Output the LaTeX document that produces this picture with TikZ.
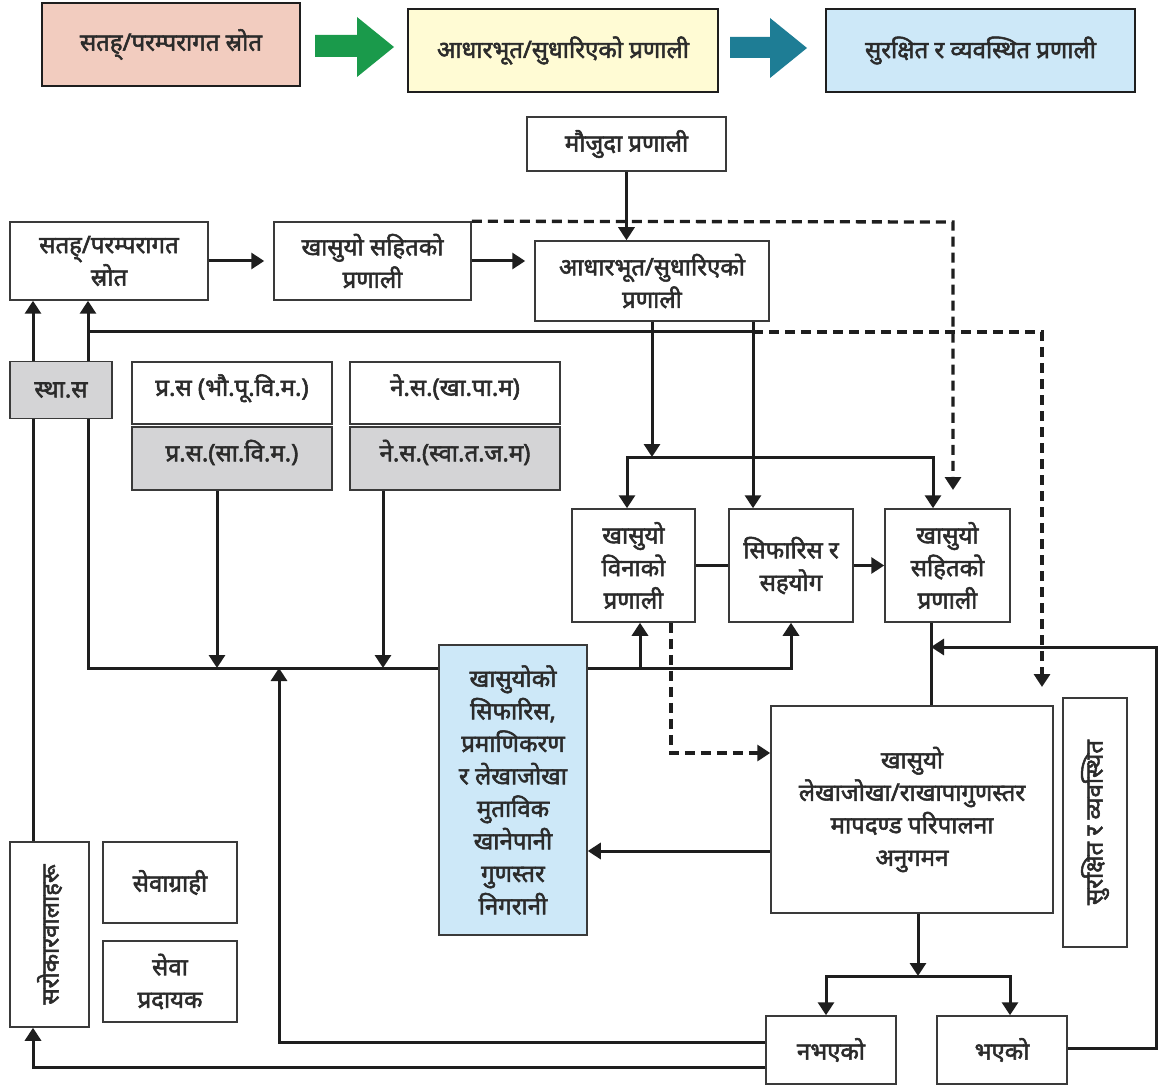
\documentclass[tikz,border=0pt]{standalone}
\usepackage{fontspec}
\newfontfamily\dev[Script=Devanagari, FakeBold=2.2]{Noto Sans}
\usetikzlibrary{arrows.meta,backgrounds}
\definecolor{pinkc}{HTML}{F2CCBF}
\definecolor{yellowc}{HTML}{FFFBD4}
\definecolor{bluec}{HTML}{CDE8F8}
\definecolor{grayc}{HTML}{D4D4D6}
\definecolor{greenc}{HTML}{1A9A4B}
\definecolor{tealc}{HTML}{1E7D95}
\definecolor{linec}{HTML}{1E1E1E}
\definecolor{boxc}{HTML}{3A3A3A}
\definecolor{txt}{HTML}{2B2B2B}
\tikzset{
  bx/.style={draw=boxc, line width=1.5pt, fill=white, align=center, inner sep=2pt,
    font=\dev\fontsize{24}{32.5}\selectfont, text=txt},
  sz/.style 2 args={minimum width=#1pt, minimum height=#2pt},
  topbx/.style={bx, line width=1.8pt, draw=linec},
  ln/.style={draw=linec, line width=3pt},
  ar/.style={ln, -{Triangle[width=16pt,length=13pt]}},
  arr2/.style={ln, {Triangle[width=16pt,length=13pt]}-{Triangle[width=16pt,length=13pt]}},
  dl/.style={draw=linec, line width=3.3pt, dash pattern=on 10pt off 6pt},
  dar/.style={dl, -{Triangle[width=16pt,length=13pt]}},
}
\begin{document}
\begin{tikzpicture}[x=1pt,y=-1pt]
\useasboundingbox (0,0) rectangle (1163,1086);

% top row
\node[topbx, fill=pinkc, sz={258}{83}] (top1) at (171,44.5) {सतह्/परम्परागत स्रोत};
\node[topbx, fill=yellowc, sz={310}{83}] (top2) at (563,50.5) {आधारभूत/सुधारिएको प्रणाली};
\node[topbx, fill=bluec, sz={309}{83}] (top3) at (980.5,50.5) {सुरक्षित र व्यवस्थित प्रणाली};
\fill[greenc] (315,35) -- (357,35) -- (357,17) -- (394,47) -- (357,77) -- (357,57) -- (315,57) -- cycle;
\fill[tealc] (730,37) -- (770,37) -- (770,18) -- (807,48) -- (770,78) -- (770,58) -- (730,58) -- cycle;

% main nodes
\node[bx, sz={199}{54}] (maujuda) at (626.5,144) {मौजुदा प्रणाली};
\node[bx, sz={198}{78}] (sataha) at (109,261) {सतह्/परम्परागत\\स्रोत};
\node[bx, sz={197}{78}] (khs1) at (372.5,261) {खासुयो सहितको\\प्रणाली};
\node[bx, sz={234}{80}] (adhar) at (652,281) {आधारभूत/सुधारिएको\\प्रणाली};
\node[bx, fill=grayc, sz={102}{57}] (stha) at (61,390) {स्था.स};
\node[bx, sz={200}{62}, text depth=16pt] (prasa1) at (232,393) {प्र.स (भौ.पू.वि.म.)};
\node[bx, fill=grayc, sz={200}{63}, text depth=16pt] (prasa2) at (232,458.5) {प्र.स.(सा.वि.म.)};
\node[bx, sz={210}{62}, text depth=16pt] (nesa1) at (455,393) {ने.स.(खा.पा.म)};
\node[bx, fill=grayc, sz={210}{63}, text depth=16pt] (nesa2) at (455,458.5) {ने.स.(स्वा.त.ज.म)};
\node[bx, sz={123}{113}] (vina) at (633.5,565.5) {खासुयो\\विनाको\\प्रणाली};
\node[bx, sz={124}{113}] (sifaris) at (791,565.5) {सिफारिस र\\सहयोग};
\node[bx, sz={125}{113}] (khs2) at (947.5,565.5) {खासुयो\\सहितको\\प्रणाली};
\node[bx, fill=bluec, sz={148}{290}] (blue) at (513,790) {खासुयोको\\सिफारिस,\\प्रमाणिकरण\\र लेखाजोखा\\मुताविक\\खानेपानी\\गुणस्तर\\निगरानी};
\node[bx, sz={282}{207}] (big) at (912,809.5) {खासुयो\\लेखाजोखा/राखापागुणस्तर\\मापदण्ड परिपालना\\अनुगमन};
\node[bx, sz={249}{64}, rotate=90] (surak) at (1095,822.5) {सुरक्षित र व्यवस्थित};
\node[bx, sz={185}{79}, rotate=90] (sarokar) at (49.5,934.5) {सरोकारवालाहरू};
\node[bx, sz={134}{81}] (sewag) at (170,882.5) {सेवाग्राही};
\node[bx, sz={134}{81}] (sewap) at (170,981.5) {सेवा\\प्रदायक};
\node[bx, sz={130}{68}] (nabh) at (831,1050) {नभएको};
\node[bx, sz={130}{68}] (bhae) at (1002,1050) {भएको};

% junction coordinates
\coordinate (jA) at (753,332);
\coordinate (jL) at (88,332);
\coordinate (jB) at (88,668);
\coordinate (jC) at (652,457);
\coordinate (hL) at (627,457);
\coordinate (hR) at (933,457);
\coordinate (d1) at (953,222);
\coordinate (d1e) at (953,490);
\coordinate (d2) at (1042,332);
\coordinate (d2e) at (1042,687);
\coordinate (jD) at (791,668);
\coordinate (jE) at (640,668);
\coordinate (jF) at (671,753);
\coordinate (jG) at (279,668);
\coordinate (jH) at (279,1042);
\coordinate (jI) at (1156,1048);
\coordinate (jJ) at (1156,647);
\coordinate (jK) at (931,647);
\coordinate (jM) at (918,976);
\coordinate (bL) at (826,976);
\coordinate (bR) at (1010,976);
\coordinate (jN) at (33,1067);
\coordinate (p1) at (217,668);
\coordinate (p2) at (383,668);

\begin{scope}[on background layer]
  \fill[white] (0,0) rectangle (1163,1086);
  \draw[ar] (maujuda.south) -- (maujuda.south |- adhar.north);
  \draw[ar, shorten >=9pt] (sataha.east) -- (khs1.west);
  \draw[ar, shorten >=9pt] (khs1.east) -- (khs1.east -| adhar.west);
  \draw[dar] (khs1.north east) -- (d1) -- (d1e);
  \draw[ar] (adhar.south -| jC) -- (jC);
  \draw[arr2] (vina.north -| hL) -- (hL) -- (hR) -- (khs2.north -| hR);
  \draw[ar] (adhar.south -| jA) -- (sifaris.north -| jA);
  \draw[ar] (jA) -- (jL) -- (sataha.south -| jL);
  \draw[dar] (jA) -- (d2) -- (d2e);
  \draw[ar] (sarokar.east -| jN) -- (sataha.south -| jN);
  \draw[ln] (jL) -- (jB) -- (blue.west |- jB);
  \draw[ar] (prasa2.south -| p1) -- (p1);
  \draw[ar] (nesa2.south -| p2) -- (p2);
  \draw[ar] (nabh.west |- jH) -- (jH) -- (jG);
  \draw[ar] (blue.east |- jD) -- (jD) -- (sifaris.south -| jD);
  \draw[ar] (jE) -- (vina.south -| jE);
  \draw[dar] (vina.south -| jF) -- (jF) -- (big.west |- jF);
  \draw[ln] (vina.east) -- (sifaris.west);
  \draw[ar] (sifaris.east) -- (khs2.west);
  \draw[ln] (khs2.south -| jK) -- (big.north -| jK);
  \draw[ar] (bhae.east |- jI) -- (jI) -- (jJ) -- (jK);
  \draw[ar] (big.west |- 0,851) -- (blue.east |- 0,851);
  \draw[ar] (big.south -| jM) -- (jM);
  \draw[arr2] (nabh.north -| bL) -- (bL) -- (bR) -- (bhae.north -| bR);
  \draw[ar] (nabh.west |- jN) -- (jN) -- (sarokar.west -| jN);
\end{scope}
\end{tikzpicture}
\end{document}
